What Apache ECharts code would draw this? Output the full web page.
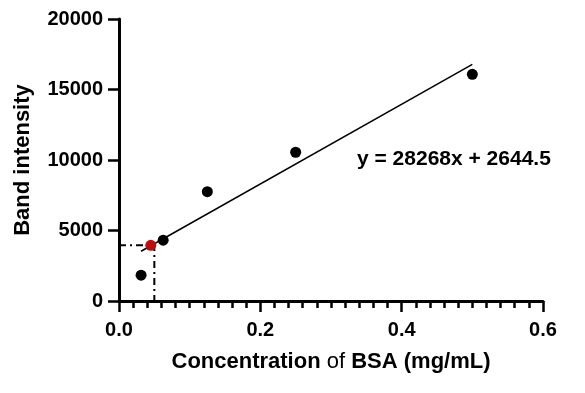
<!DOCTYPE html>
<html><head><meta charset="utf-8">
<script src="https://cdn.jsdelivr.net/npm/echarts@6/dist/echarts.min.js"></script>
<style>html,body{margin:0;padding:0;background:#fff}#c{width:585px;height:393px}</style>
</head><body><div id="c"></div>
<script>
const concentrations = [0.03125, 0.0625, 0.125, 0.25, 0.5];
const intensities = [1830, 4310, 7750, 10550, 16080];
const unknownPoint = [0.045, 3950];
const guidePath = [[0, 3950], [0.05, 3950], [0.05, 0]];
const fitLine = [[0.03125, 3528], [0.5, 16778]];
const equationText = 'y = 28268x + 2644.5';
const xTicks = [0, 0.2, 0.4, 0.6];
const yTicks = [0, 5000, 10000, 15000, 20000];

const FONT = '"Liberation Sans", Arial, sans-serif';
const chart = echarts.init(document.getElementById('c'), null, {renderer: 'canvas'});
chart.setOption({
  animation: false,
  backgroundColor: '#fff',
  grid: {left: 119, right: 42, top: 19, bottom: 92},
  xAxis: [{
    type: 'value', min: xTicks[0], max: xTicks[xTicks.length - 1], interval: 0.2,
    name: 'Concentration {n|of} BSA (mg/mL)',
    nameLocation: 'middle', nameGap: 50,
    nameTextStyle: {fontFamily: FONT, fontSize: 22, fontWeight: 'bold', color: '#000',
      rich: {n: {fontFamily: FONT, fontSize: 22, fontWeight: 'normal', color: '#000'}}},
    axisLine: {show: true, onZero: false, lineStyle: {color: '#000', width: 3}},
    axisTick: {show: true, inside: false, length: 11, lineStyle: {color: '#000', width: 2.5}},
    minorTick: {show: true, splitNumber: 10, length: 7, lineStyle: {color: '#000', width: 2.5}},
    splitLine: {show: false},
    axisLabel: {fontFamily: FONT, fontSize: 20, fontWeight: 'bold', color: '#000', margin: 19,
      formatter: v => v.toFixed(1)}
  }],
  yAxis: {
    type: 'value', min: yTicks[0], max: yTicks[yTicks.length - 1], interval: 5000,
    name: 'Band intensity', nameLocation: 'middle', nameGap: 85,
    nameTextStyle: {fontFamily: FONT, fontSize: 22, fontWeight: 'bold', color: '#000'},
    axisLine: {show: true, onZero: false, lineStyle: {color: '#000', width: 3}},
    axisTick: {show: true, length: 11, lineStyle: {color: '#000', width: 2.5}},
    splitLine: {show: false},
    axisLabel: {fontFamily: FONT, fontSize: 20, fontWeight: 'bold', color: '#000', margin: 16,
      formatter: v => String(v)}
  },
  series: [
    {type: 'line', data: fitLine, symbol: 'none', z: 1,
     lineStyle: {color: '#000', width: 1.5}},
    {type: 'line', data: guidePath, symbol: 'none', z: 1,
     lineStyle: {color: '#000', width: 2, type: [7, 4, 2, 4]}},
    {type: 'scatter', data: concentrations.map((x, i) => [x, intensities[i]]),
     symbolSize: 11, itemStyle: {color: '#000', opacity: 1}, z: 3},
    {type: 'scatter', data: [unknownPoint], symbolSize: 11,
     itemStyle: {color: '#b80f0f', opacity: 1}, z: 4}
  ],
  graphic: [{type: 'text', left: 357, top: 149,
    style: {text: equationText, font: 'bold 21px ' + FONT, fill: '#000'}}]
});
</script></body></html>
